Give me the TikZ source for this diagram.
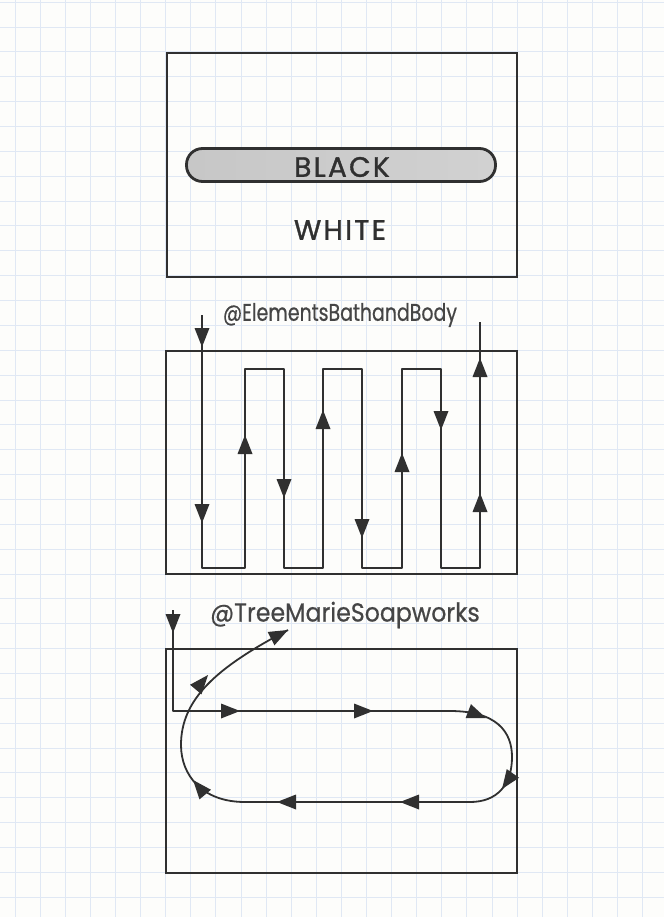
\documentclass[tikz,border=0pt]{standalone}
\usepackage{fontspec}
\setmainfont{Poppins}
\newfontfamily\wordfont[LetterSpace=8,FakeBold=1.2]{Poppins}
\newfontfamily\handfont[FakeBold=0.6]{Poppins}
\definecolor{ink}{RGB}{48,48,48}
\definecolor{gridblue}{RGB}{224,232,244}
\definecolor{paper}{RGB}{253,253,251}
\begin{document}
\begin{tikzpicture}[x=1pt,y=-1pt]
\tikzset{
  frame/.style={draw=ink, line width=1.6pt},
  route/.style={draw=ink, line width=1.8pt, line join=round},
  gridline/.style={draw=gridblue, line width=0.7pt},
  handle/.style={text=ink!90, inner sep=0pt},
  word/.style={text=ink, inner sep=0pt, font=\wordfont\fontsize{28}{32}\selectfont},
  pill/.style={draw=ink, line width=2.8pt, rounded corners=16pt, minimum width=309pt, minimum height=33pt,
               left color=black!22, middle color=black!5, right color=black!18, inner sep=0pt},
  ah/.pic={\fill[ink] (0,0) -- (-19,7.5) -- (-19,-7.5) -- cycle;}
}
\useasboundingbox (0,0) rectangle (664,917);
\fill[paper] (0,0) rectangle (664,917);
\foreach \i in {0,...,26} \draw[gridline] ({15+25.1*\i},0) -- ({15+25.1*\i},917);
\foreach \j in {0,...,36} \draw[gridline] (0,{2.1+24.86*\j}) -- (664,{2.1+24.86*\j});

% ---- panel 1
\draw[frame] (167,53) rectangle (517,277);
\node[pill] (pillbox) at (341,165) {};
\node[word] (black) at (342,167) {BLACK};
\node[word] (white) at (340,230) {WHITE};

% ---- panel 2
\draw[frame] (166,351) rectangle (517,574);
\node[handle] (h2) at (340,315) {\scalebox{0.79}[1]{\handfont\fontsize{24}{28}\selectfont @ElementsBathandBody}};
\coordinate (in2) at (202,315);
\coordinate (out2) at (480,322);
\draw[route] (in2) -- (202,568) -- (245,568) -- (245,369) -- (284,369) -- (284,568) -- (323,568)
  -- (323,369) -- (362,369) -- (362,568) -- (402,568) -- (402,369) -- (441,369) -- (441,568)
  -- (480,568) -- (out2);
\pic[rotate=-90] at (202,347) {ah};
\pic[rotate=-90] at (202,523) {ah};
\pic[rotate=90] at (245,435) {ah};
\pic[rotate=-90] at (284,498) {ah};
\pic[rotate=90] at (323,410) {ah};
\pic[rotate=-90] at (362,538) {ah};
\pic[rotate=90] at (402,453) {ah};
\pic[rotate=-90] at (441,430) {ah};
\pic[rotate=90] at (480,493) {ah};
\pic[rotate=90] at (480,358) {ah};

% ---- panel 3
\draw[frame] (166,649) rectangle (517,873);
\node[handle] (h3) at (345,615) {\scalebox{0.91}[1]{\handfont\fontsize{26}{30}\selectfont @TreeMarieSoapworks}};
\coordinate (in3) at (173,610);
\coordinate (out3) at (288,630);
\draw[route] (in3) -- (173,711) -- (450,711) .. controls (497,711) and (512,732) .. (512,757)
  .. controls (512,785) and (497,802) .. (470,802) -- (245,802)
  .. controls (202,802) and (181,775) .. (181,745)
  .. controls (181,700) and (215,668) .. (out3);
\pic[rotate=-90] at (173,633) {ah};
\pic at (240,711) {ah};
\pic at (373,711) {ah};
\pic[rotate=-21] at (486,718) {ah};
\pic[rotate=-125] at (502,789) {ah};
\pic[rotate=180] at (400,802) {ah};
\pic[rotate=180] at (277,802) {ah};
\pic[rotate=130] at (193,780) {ah};
\pic[rotate=50] at (208,675) {ah};
\pic[rotate=27] at (out3) {ah};
\end{tikzpicture}
\end{document}
